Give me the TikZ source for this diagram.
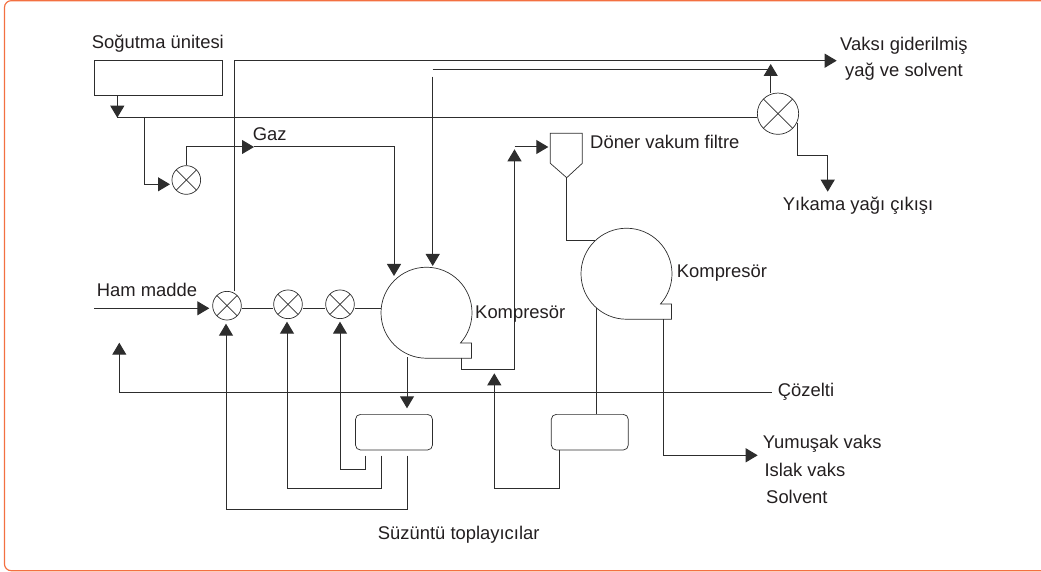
\documentclass[tikz,border=0pt]{standalone}
\usepackage{fontspec}
\setmainfont{Liberation Sans}
\usepackage{xcolor}
\usetikzlibrary{arrows.meta,positioning,calc,shapes.geometric}
\definecolor{framered}{RGB}{243, 112, 65}
\definecolor{pipegray}{RGB}{45, 45, 45}
\definecolor{labelblack}{RGB}{35, 31, 32}
\newcommand{\compressorbody}[1]{\draw[pipe, line width=0.6pt] (#1.south) arc[start angle=-90, end angle=-401.6, radius=1.365cm] -- ++(11,0) |- (#1.south);}

\begin{document}
\begin{tikzpicture}[
  x=0.03cm, y=-0.03cm,
  pipe/.style={line width=0.85pt, color=pipegray},
  flow/.style={-{Triangle[length=3.6mm,width=4.2mm]}, line width=0.85pt, color=pipegray},
  valve/.style={circle, draw=pipegray, line width=0.6pt, minimum size=0.86cm, inner sep=0pt, path picture={
    \draw[pipegray, line width=0.6pt] (path picture bounding box.south west) -- (path picture bounding box.north east);
    \draw[pipegray, line width=0.6pt] (path picture bounding box.north west) -- (path picture bounding box.south east);}},
  bigvalve/.style={valve, minimum size=1.24cm},
  compbody/.style={circle, minimum size=2.73cm, inner sep=0pt},
  collector/.style={rectangle, draw=pipegray, line width=0.6pt, rounded corners=1.5mm, minimum width=2.31cm, minimum height=1.07cm, inner sep=0pt},
  tag/.style={anchor=base west, inner sep=0pt, text=labelblack, font=\fontsize{15.7}{19}\selectfont}
]
\useasboundingbox (0,0) rectangle (1041,572);

% Outer frame, open on the right
\draw[framered, line width=1pt, rounded corners=2mm] (1041,0.7) -- (4.5,0.7) -- (4.5,570.7) -- (1041,570.7);

% Units on the top row
\node[rectangle, draw=pipegray, line width=0.6pt, minimum width=3.85cm, minimum height=1.03cm, inner sep=0pt] (cooler) at (158.5,77.8) {};
\node[valve] (valveGas) at (186.3,180) {};
\node[bigvalve] (valveWash) at (778,113.7) {};
\draw[pipe, line width=0.6pt] (550.3,133.3) -- (582.3,133.3) -- (582.3,163.3) -- (566.7,177.7) -- (550.3,163.3) -- cycle;

% Main line: valves and compressors
\node[valve] (valveA) at (227,305.7) {};
\node[valve] (valveB) at (288,304.3) {};
\node[valve] (valveC) at (340,304.3) {};
\node[compbody] (compA) at (426.5,312.5) {};
\node[compbody] (compB) at (626.5,273.5) {};
\compressorbody{compA}
\compressorbody{compB}

% Filtrate collectors
\node[collector] (collA) at (394,432.2) {};
\node[collector] (collB) at (589.8,432.2) {};

% Named line ends
\coordinate (inlet) at (94,308.3);
\coordinate (inletTip) at (209.3,308.3);
\coordinate (coolJoin) at (117.3,117.7);
\coordinate (gasBranch) at (144,117.7);
\coordinate (gasValveIn) at (170,184.3);
\coordinate (gasMid) at (254,147);
\coordinate (gasComp) at (394,276);
\coordinate (oilTop) at (234.7,60.7);
\coordinate (dewaxOut) at (836.7,60.7);
\coordinate (washUp) at (770.7,93);
\coordinate (washTip) at (770.7,64);
\coordinate (washTop) at (770.7,69.3);
\coordinate (washLeft) at (432.7,69.3);
\coordinate (washDown) at (432.7,76.7);
\coordinate (washComp) at (432.7,266);
\coordinate (washExit) at (797.3,123);
\coordinate (washOut) at (827.7,191.7);
\coordinate (compAOut) at (461,357.7);
\coordinate (riserLow) at (514.5,369.3);
\coordinate (riserTip) at (514.5,149.3);
\coordinate (filterFeed) at (514.5,147);
\coordinate (filterIn) at (548.3,147);
\coordinate (filterOut) at (566.7,177.7);
\coordinate (compBIn) at (595,240);
\coordinate (compADrop) at (407,357);
\coordinate (collATip) at (407,408.3);
\coordinate (compBDrop) at (596.3,308);
\coordinate (compBOut) at (663.3,319);
\coordinate (waxOut) at (757.7,455.3);
\coordinate (solutionIn) at (771.7,392.7);
\coordinate (solutionOut) at (119.3,342.7);
\coordinate (tapA) at (407,455.7);
\coordinate (tapB) at (381,455.7);
\coordinate (tapC) at (365.3,455.7);
\coordinate (lowA) at (226,509);
\coordinate (lowB) at (287,488.3);
\coordinate (lowC) at (340,469.7);
\coordinate (tipA) at (226,323.7);
\coordinate (tipB) at (287,321.7);
\coordinate (tipC) at (340,321.7);
\coordinate (tapD) at (559.3,450);
\coordinate (lowD) at (494.3,488.3);
\coordinate (tipD) at (494.3,373.3);

% Cooling loop
\draw[flow] (cooler.south -| coolJoin) -- (coolJoin);
\draw[pipe] (coolJoin) -- (valveWash.west |- coolJoin);
\draw[flow] (gasBranch) |- (gasValveIn);
\draw[flow] (valveGas.north) |- (gasMid);
\draw[flow] (gasMid) -| (gasComp);

% Dewaxed oil and washing oil
\draw[flow] (oilTop |- valveA.north) -- (oilTop) -- (dewaxOut);
\draw[flow] (washUp) -- (washTip);
\draw[pipe] (washLeft) -- (washTop);
\draw[flow] (washDown) -- (washComp);
\draw[flow] (washExit) |- (washOut |- 0,156) -- (washOut);

% Main line
\draw[flow] (inlet) -- (inletTip);
\draw[pipe] (valveA.east |- inlet) -- (valveB.west |- inlet);
\draw[pipe] (valveB.east |- inlet) -- (valveC.west |- inlet);
\draw[pipe] (valveC.east |- inlet) -- (compA.west |- inlet);

% Compressor outlets and filter
\draw[flow] (compAOut) |- (riserLow) -- (riserTip);
\draw[flow] (filterFeed) -- (filterIn);
\draw[pipe] (filterOut) |- (compBIn);
\draw[flow] (compADrop) -- (collATip);
\draw[pipe] (compBDrop) -- (compBDrop |- collB.north);
\draw[flow] (compBOut) |- (waxOut);

% Solution line
\draw[flow] (solutionIn) -| (solutionOut);

% Collector returns
\draw[flow] (tapC) |- (lowC) -- (tipC);
\draw[flow] (tapB) |- (lowB) -- (tipB);
\draw[flow] (tapA) |- (lowA) -- (tipA);
\draw[flow] (tapD) |- (lowD) -- (tipD);

% Labels
\node[tag] (lblCooler) at (91.7,48.5) {Soğutma ünitesi};
\node[tag] (lblGas) at (252.7,140.7) {Gaz};
\node[tag] (lblOilA) at (840,50.7) {Vaksı giderilmiş};
\node[tag] (lblOilB) at (845,77) {yağ ve solvent};
\node[tag] (lblFilter) at (590,149) {Döner vakum filtre};
\node[tag] (lblWash) at (782.7,211) {Yıkama yağı çıkışı};
\node[tag] (lblFeed) at (96.7,296.7) {Ham madde};
\node[tag] (lblCompA) at (475,319) {Kompresör};
\node[tag] (lblCompB) at (676.7,278) {Kompresör};
\node[tag] (lblSolution) at (777.7,396.7) {Çözelti};
\node[tag] (lblSoft) at (762.7,448.7) {Yumuşak vaks};
\node[tag] (lblWet) at (764.3,476) {Islak vaks};
\node[tag] (lblSolvent) at (766,503) {Solvent};
\node[tag] (lblColl) at (377.7,539) {Süzüntü toplayıcılar};

\end{tikzpicture}
\end{document}
